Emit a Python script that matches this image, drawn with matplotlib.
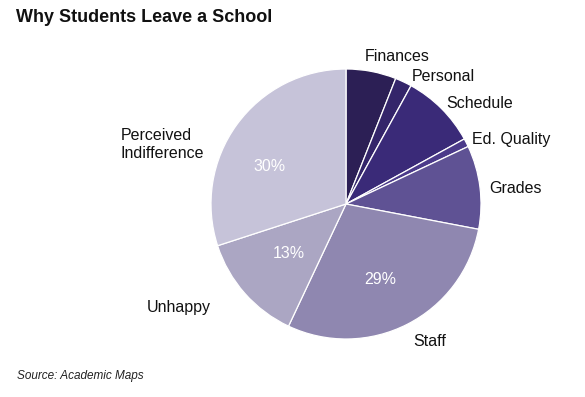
import numpy as np
import matplotlib
matplotlib.use("Agg")
import matplotlib.pyplot as plt

plt.rcParams['font.family'] = ['Liberation Sans', 'DejaVu Sans']

# data
reasons = ["Finances", "Personal", "Schedule", "Ed. Quality", "Grades",
           "Staff", "Unhappy", "Perceived\nIndifference"]
shares = [6, 2, 9, 1, 10, 29, 13, 30]
colors = ["#2c1f55", "#34256a", "#3a2a78", "#4b3a8a", "#5f5294",
          "#8f87b0", "#aba6c3", "#c6c3d9"]

# label layout: (radius factor, angle nudge in degrees, ha)
label_layout = [
    (1.10, 3.5, "left"),
    (1.06, -2, "left"),
    (1.05, 0, "left"),
    (1.045, 0, "left"),
    (1.065, -1, "left"),
    (1.13, -1, "left"),
    (1.26, -4, "right"),
    (1.43, 18, "center"),
]
# percent label layout: (radius factor, angle nudge)
pct_layout = [None, None, None, None, None, (0.615, -3), (0.56, 0), (0.63, 10)]

fig = plt.figure(figsize=(5.85, 3.97), dpi=100)
W, H = 585, 397
cx, cy, r = 346, 204, 135
ax = fig.add_axes([(cx - r) / W, (H - cy - r) / H, 2 * r / W, 2 * r / H])

wedges, texts, autotexts = ax.pie(
    shares, colors=colors, startangle=90, counterclock=False,
    autopct=lambda p: f"{p:.0f}%" if p > 12 else "", pctdistance=0.62,
    wedgeprops=dict(edgecolor="white", linewidth=0.9),
    textprops=dict(color="white", fontsize=11.5))
ax.set_xlim(-1, 1)
ax.set_ylim(-1, 1)
ax.axis("off")

for w, name, (rf, nudge, ha) in zip(wedges, reasons, label_layout):
    mid = np.deg2rad((w.theta1 + w.theta2) / 2 + nudge)
    x, y = rf * np.cos(mid), rf * np.sin(mid)
    ax.text(x, y, name, ha=ha, va="center", fontsize=11.5, color="#111111",
            multialignment="left", clip_on=False)

for w, t, lay in zip(wedges, autotexts, pct_layout):
    if lay is None:
        continue
    rf, nudge = lay
    mid = np.deg2rad((w.theta1 + w.theta2) / 2 + nudge)
    t.set_position((rf * np.cos(mid), rf * np.sin(mid)))

fig.text(16 / W, 1 - 18 / H, "Why Students Leave a School", fontsize=13,
         fontweight="bold", ha="left", va="center", color="#111111")
fig.text(17 / W, 1 - 376 / H, "Source: Academic Maps", fontsize=8.5,
         fontstyle="italic", ha="left", va="center", color="#222222")

fig.savefig("out.png", dpi=100)
